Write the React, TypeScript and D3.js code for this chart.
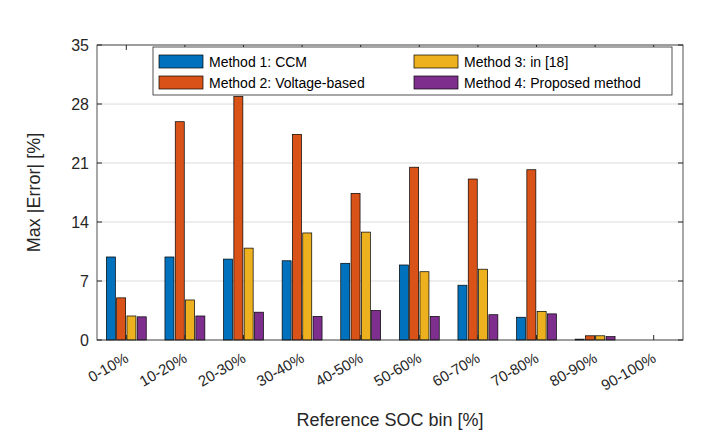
import React from "react";
import * as d3 from "d3";

const categories = ["0-10%","10-20%","20-30%","30-40%","40-50%","50-60%","60-70%","70-80%","80-90%","90-100%"];
const seriesNames = ["Method 1: CCM","Method 2: Voltage-based","Method 3: in [18]","Method 4: Proposed method"];
const m1 = [9.85,9.85,9.6,9.4,9.1,8.9,6.5,2.7,0.1,0];
const m2 = [5.0,25.9,28.9,24.4,17.4,20.5,19.1,20.2,0.5,0];
const m3 = [2.85,4.75,10.9,12.7,12.8,8.1,8.4,3.4,0.5,0];
const m4 = [2.75,2.85,3.3,2.8,3.5,2.8,3.0,3.1,0.4,0];
const yTicks = [0,7,14,21,28,35];
const colors = ["#0072BD","#D95319","#EDB120","#7E2F8E"];

export default function App() {
  const W = 706, H = 445;
  const L = 97, R = 683, T = 45, B = 340;
  const series = [m1, m2, m3, m4];
  const x = d3.scaleBand().domain(categories).range([L, R]);
  const y = d3.scaleLinear().domain([0, 35]).range([B, T]);
  const step = 10.3, bw = 9;
  const font = "'Liberation Sans', Arial, sans-serif";
  return (
    <svg width={W} height={H} style={{ position: "absolute", left: 0, top: 0 }} fontFamily={font}>
      <rect x={0} y={0} width={W} height={H} fill="#fff" />
      <rect x={L} y={T} width={R - L} height={B - T} fill="#fff" />
      {yTicks.map(t => (
        <line key={"gy" + t} x1={L} x2={R} y1={y(t)} y2={y(t)} stroke="#dcdcdc" />
      ))}
      {series.map((s, si) =>
        s.map((v, i) => {
          const cx = x(categories[i])! + x.bandwidth() / 2 + (si - 1.5) * step;
          return (
            <rect key={si + "-" + i} x={cx - bw / 2} y={y(v)} width={bw} height={Math.max(0, B - y(v))}
              fill={colors[si]} stroke="#000" strokeWidth={0.7} />
          );
        })
      )}
      <rect x={L} y={T} width={R - L} height={B - T} fill="none" stroke="#262626" strokeWidth={0.8} />
      {yTicks.map(t => (
        <g key={"ty" + t}>
          <line x1={L} x2={L + 5} y1={y(t)} y2={y(t)} stroke="#262626" />
          <line x1={R} x2={R - 5} y1={y(t)} y2={y(t)} stroke="#262626" />
          <text x={L - 8} y={y(t)} dy="0.35em" textAnchor="end" fontSize={16} fill="#262626">{t}</text>
        </g>
      ))}
      {categories.map(c => {
        const cx = x(c)! + x.bandwidth() / 2;
        return (
          <g key={"tx" + c}>
            <line x1={cx} x2={cx} y1={B} y2={B - 5} stroke="#262626" />
            <line x1={cx} x2={cx} y1={T} y2={T + 5} stroke="#262626" />
            <text transform={`translate(${cx - 2},${B + 12}) rotate(-30)`} textAnchor="end" dy="0.7em" fontSize={15} fill="#262626">{c}</text>
          </g>
        );
      })}
      <text transform={`translate(40,${(T + B) / 2}) rotate(-90)`} textAnchor="middle" fontSize={18} fill="#262626">Max |Error| [%]</text>
      <text x={(L + R) / 2} y={426} textAnchor="middle" fontSize={18} fill="#262626">Reference SOC bin [%]</text>
      <rect x={153} y={47} width={519} height={48} fill="#fff" stroke="#262626" strokeWidth={0.8} />
      {seriesNames.map((n, i) => {
        const col = i === 0 || i === 1 ? 0 : 1;
        const row = i === 0 || i === 2 ? 0 : 1;
        const lx = col === 0 ? 159 : 414;
        const ly = row === 0 ? 55 : 76;
        return (
          <g key={n}>
            <rect x={lx} y={ly} width={44} height={13} fill={colors[i]} stroke="#000" strokeWidth={0.7} />
            <text x={lx + 50} y={ly + 7} dy="0.35em" fontSize={14} fill="#000">{n}</text>
          </g>
        );
      })}
    </svg>
  );
}
